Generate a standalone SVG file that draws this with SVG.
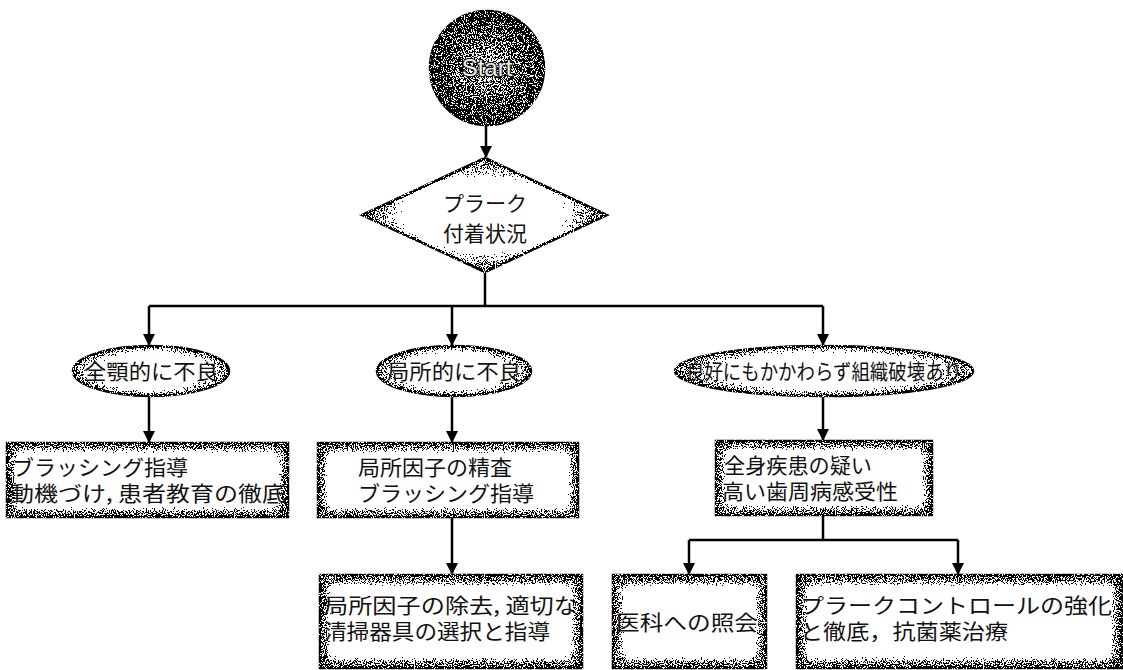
<svg xmlns="http://www.w3.org/2000/svg" width="1123" height="670" viewBox="0 0 1123 670">
<style>
.t{font-family:"Noto Sans CJK JP","Noto Sans CJK SC",sans-serif;font-size:21px;fill:#111}
.c{stroke:#000;stroke-width:2.5;fill:none}
.sh{stroke:#000;stroke-width:2.5}
.bx{fill:#6e6e6e;stroke:#000;stroke-width:2.5}
.in{fill:#fff;filter:url(#blur)}
</style>
<defs>
<filter id="grain" x="-5%" y="-5%" width="110%" height="110%" color-interpolation-filters="sRGB">
<feTurbulence type="fractalNoise" baseFrequency="0.9" numOctaves="2" seed="3" result="noise"/>
<feColorMatrix in="noise" type="matrix" values="1 0 0 0 0  1 0 0 0 0  1 0 0 0 0  0 0 0 0 1" result="gn"/>
<feComposite in="SourceGraphic" in2="gn" operator="arithmetic" k1="-4" k2="3" k3="4" k4="-2" result="sum"/>
<feComponentTransfer in="sum" result="bw"><feFuncR type="discrete" tableValues="0 1"/><feFuncG type="discrete" tableValues="0 1"/><feFuncB type="discrete" tableValues="0 1"/><feFuncA type="linear" slope="0" intercept="1"/></feComponentTransfer>
<feComposite in="bw" in2="SourceGraphic" operator="in"/>
</filter>
<filter id="blur" x="-20%" y="-30%" width="140%" height="160%"><feGaussianBlur stdDeviation="4"/></filter>
<radialGradient id="gStart"><stop offset="0" stop-color="#a0a0a0"/><stop offset="0.55" stop-color="#666"/><stop offset="1" stop-color="#2a2a2a"/></radialGradient>
<radialGradient id="gDia"><stop offset="0" stop-color="#fff"/><stop offset="0.45" stop-color="#fafafa"/><stop offset="1" stop-color="#646464"/></radialGradient>
<radialGradient id="gEll"><stop offset="0" stop-color="#fff"/><stop offset="0.55" stop-color="#f4f4f4"/><stop offset="1" stop-color="#7a7a7a"/></radialGradient>
<marker id="arr" viewBox="0 0 12 12" refX="12" refY="6" markerWidth="12" markerHeight="12" markerUnits="userSpaceOnUse" orient="auto"><path d="M0,0 L12,6 L0,12 z" fill="#000"/></marker>
</defs>
<rect width="1123" height="670" fill="#fff"/>

<g id="connectors">
<path class="c" d="M486,125 V158" marker-end="url(#arr)"/>
<path class="c" d="M485,272 V306 M149,306 H823"/>
<path class="c" d="M149,306 V346" marker-end="url(#arr)"/>
<path class="c" d="M452,306 V346" marker-end="url(#arr)"/>
<path class="c" d="M823,306 V346" marker-end="url(#arr)"/>
<path class="c" d="M149,396 V443" marker-end="url(#arr)"/>
<path class="c" d="M452,396 V443" marker-end="url(#arr)"/>
<path class="c" d="M823,396 V441" marker-end="url(#arr)"/>
<path class="c" d="M452,517 V575" marker-end="url(#arr)"/>
<path class="c" d="M823,515 V540 M689,540 H958"/>
<path class="c" d="M689,540 V575" marker-end="url(#arr)"/>
<path class="c" d="M958,540 V575" marker-end="url(#arr)"/>
</g>

<g id="start">
<circle cx="487" cy="68" r="57" class="sh" fill="url(#gStart)" filter="url(#grain)"/>
<text x="487" y="76" text-anchor="middle" style="font-family:'Liberation Sans',Arial,sans-serif;font-size:24px;fill:#eee;stroke:#111;stroke-width:2.2;paint-order:stroke">Start</text>
</g>

<g id="decision">
<polygon points="485,158 607,215 485,272 362,215" class="sh" fill="url(#gDia)" filter="url(#grain)"/>
<text class="t" x="485" y="211" text-anchor="middle">プラーク</text>
<text class="t" x="485" y="241" text-anchor="middle">付着状況</text>
</g>

<g id="e1">
<ellipse cx="151" cy="371" rx="78" ry="25" class="sh" fill="url(#gEll)" filter="url(#grain)"/>
<text class="t" x="151" y="379" text-anchor="middle" textLength="134" lengthAdjust="spacingAndGlyphs">全顎的に不良</text>
</g>
<g id="e2">
<ellipse cx="454" cy="371" rx="77" ry="25" class="sh" fill="url(#gEll)" filter="url(#grain)"/>
<text class="t" x="454" y="379" text-anchor="middle" textLength="134" lengthAdjust="spacingAndGlyphs">局所的に不良</text>
</g>
<g id="e3">
<ellipse cx="824" cy="371" rx="149" ry="25" class="sh" fill="url(#gEll)" filter="url(#grain)"/>
<text class="t" x="686" y="379" textLength="276" lengthAdjust="spacingAndGlyphs">良好にもかかわらず組織破壊あり</text>
</g>

<g id="b1">
<g filter="url(#grain)"><rect x="7" y="443" width="281" height="74" class="bx"/><rect x="16" y="452" width="263" height="56" class="in"/></g>
<text class="t" x="12" y="475" textLength="176" lengthAdjust="spacingAndGlyphs">ブラッシング指導</text>
<text class="t" x="10" y="501" textLength="276" lengthAdjust="spacingAndGlyphs">動機づけ, 患者教育の徹底</text>
</g>
<g id="b2">
<g filter="url(#grain)"><rect x="318" y="443" width="260" height="74" class="bx"/><rect x="327" y="452" width="242" height="56" class="in"/></g>
<text class="t" x="358" y="475" textLength="154" lengthAdjust="spacingAndGlyphs">局所因子の精査</text>
<text class="t" x="358" y="501" textLength="176" lengthAdjust="spacingAndGlyphs">ブラッシング指導</text>
</g>
<g id="b3">
<g filter="url(#grain)"><rect x="716" y="441" width="216" height="74" class="bx"/><rect x="725" y="450" width="198" height="56" class="in"/></g>
<text class="t" x="724" y="473" textLength="148" lengthAdjust="spacingAndGlyphs">全身疾患の疑い</text>
<text class="t" x="722" y="499" textLength="176" lengthAdjust="spacingAndGlyphs">高い歯周病感受性</text>
</g>
<g id="b6">
<g filter="url(#grain)"><rect x="320" y="575" width="262" height="93" class="bx"/><rect x="330" y="585" width="242" height="73" class="in"/></g>
<text class="t" x="324" y="613" textLength="254" lengthAdjust="spacingAndGlyphs">局所因子の除去, 適切な</text>
<text class="t" x="324" y="639" textLength="226" lengthAdjust="spacingAndGlyphs">清掃器具の選択と指導</text>
</g>
<g id="b4">
<g filter="url(#grain)"><rect x="613" y="575" width="153" height="93" class="bx"/><rect x="623" y="585" width="133" height="73" class="in"/></g>
<text class="t" x="616" y="630" textLength="142" lengthAdjust="spacingAndGlyphs">医科への照会</text>
</g>
<g id="b5">
<g filter="url(#grain)"><rect x="797" y="575" width="325" height="93" class="bx"/><rect x="807" y="585" width="305" height="73" class="in"/></g>
<text class="t" x="800" y="613" textLength="312" lengthAdjust="spacingAndGlyphs">プラークコントロールの強化</text>
<text class="t" x="800" y="639" textLength="208" lengthAdjust="spacingAndGlyphs">と徹底，抗菌薬治療</text>
</g>
</svg>
